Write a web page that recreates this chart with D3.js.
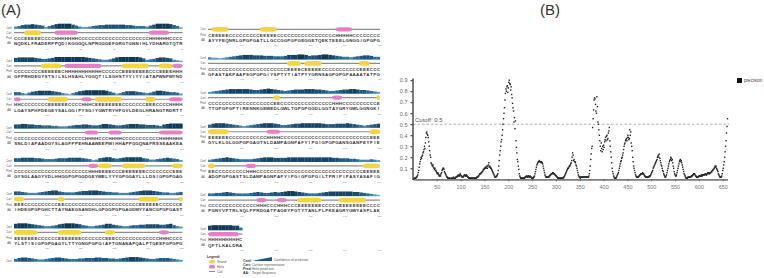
<!DOCTYPE html>
<html>
<head>
<meta charset="utf-8">
<script src="https://cdn.jsdelivr.net/npm/d3@7"></script>
<style>
  html, body { margin: 0; background: #fff; }
  svg { display: block; }
</style>
</head>
<body>
<svg id="fig" width="764" height="278"></svg>
<script>
// ===== Panel A data: PSIPRED rows, 50 residues per block (spaces only group by 10) =====
const predRows = [
  "CCCEEEEECC CCHHHHHHHC CCCCCCCCCC CCCCCCCCCC HHHHHHCCCC",
  "CCCCCCCCEE EEEECHHHHH HHHHHHCCCC CCEEEEEEEE CCCEEEEHHH",
  "HHCCCCCCCC EEEEEECCCC HHHCEEEEEE EECCCCCCCE EECCCCHHHH",
  "CCCCCCCCCC CCCCCCCCCC CHHHHCCCHH HHCCCCCCCC CCCHHHHHHH",
  "CCCCCCCCCC CCCCCCCCCC CCHHHEEEEC CCEEEEEEEC CCCCCCCEEE",
  "EEECCCCCCC CCCEECCCCC CCCCCCCCCC CCCCCCCEEE EEECCCCCCE",
  "EEEEEEECCC CCCEEEEEEE CCCCCCCEEE CCCCCCCCCC CCCHHHCCCC",
  "CEEEEECCCC CCCCCEEEEE CCCCCCCCCC CCCCCCCHHH HHCCCCCCCC",
  "CCCCCCCCCC CCCCCCCCCC CCCEEEECEE EEECCCCCCC CCCCEEECCC",
  "CCCCCCCCCC CCCCCCCCCE ECCCCCCCCC CCCCCCHHHC CCCCCCCCCE",
  "EEEEEECCCC CCCCCCCHHH HCCCCCCCCC CCCCCCCCCC CCCCCCCEEE",
  "EECCCCCCCC CHHHCCCCCC CCCCCCCCCC CCCCCCCCCC CCCCCEEEEE",
  "CCCCCCCCCC CCCCHHHCCC HHHCCCEEEE EEECCCCCEE EEEEEECCCC",
  "HHHHHHHHHC"
];
const aaRows = [
  "NQDKLFRADE RPPQDIKGGG QLNPRGGGEF GRGTGNNIHL YDHARGTQTR",
  "GFPRHDEGYS TSILSLHSAH LYGGQTILSG HSTYYIYYIA TAPWNFWYND",
  "LGAYSPHFDE GEYSALGGIP YSGIYGWTRY HFGVLDEGLH RANGTRDRTT",
  "SNLDIAPAAD GYSLAGFPPE HNAAWEEPWI HHAPPGGQNA FRSSEAAKEA",
  "GYSGLAAGYV DLHHGGPGPG GDGEYWELYY YGPGGAYLLL DSIGPGPGAG",
  "IHDEGPGPGH CTTAYNAEGS ANDHLGPGGP GPGAGDMYYA NCGPGPGAST",
  "YLSTISIGPG PGAGYLTTYG NGPGPGIAFT GNANAPQALP TGEEFGPGPG",
  "AYYFEQNRLG PGPGATLLGC CGGPGPGEGG ETQEKTEEEL GNGGIGPGPG",
  "GFASTAKPAA PSGPGPGIYS PTYTIATPYY GRNSAGPGPG FAAAATATPG",
  "TTGPGPGPTI RENNKGEWED LGWLTGPGPG GDLGGTAYGR YGWLGGNGKI",
  "GYLKLGLGGP GPGAGTSLDA MPAGNPAFYI PGIGPGPGAN SGANPEYFIE",
  "ADGPGPGAST SLDAMPAGNP AFYIPGIGPG PGILTPRIPI PASYASAFIG",
  "PGNYVPTRLS QLPPRDGATP AGEYPGTYTA NLPLPKEAGR YGWYASPLAK",
  "QFTLKALDRA"
];
const confRows = [
  "3467787652 4689999753 2234566777 7776654443 5799998641",
  "7888887655 6799999999 9876543346 8999999863 4578876321",
  "5532467888 8765321357 8999999864 2357776543 4688765542",
  "7788776655 5443334566 7765568876 5567888776 6654789999",
  "6677776654 4456667777 6542367886 5678888865 3345676542",
  "6654333456 7886544456 7788876554 4333456788 8765443345",
  "8999876543 3457899987 5433456886 5433455667 7776678532",
  "4677654334 5677654445 5666776655 4567888765 4456665432",
  "3221234567 8887776665 5568889986 7789987654 4345677644",
  "2345678888 8876678987 6545677788 8776544567 7887665432",
  "5788876543 2345678887 6445677888 8887666777 8765434567",
  "3456787654 4445678887 7778888888 8888887766 6554333432",
  "4455676544 4456765567 6789987654 4456788888 8877654321",
  "8999999884"
];
const rowLabels = ["Conf", "Cart", "Pred", "AA"];

// ===== Panel B data: precision per residue (1..660), 10 per line =====
const precision = [
  0.00,0.00,0.01,0.01,0.01,0.01,0.02,0.02,0.03,0.04,
  0.06,0.08,0.11,0.14,0.16,0.18,0.20,0.19,0.21,0.22,
  0.24,0.25,0.27,0.30,0.28,0.33,0.38,0.42,0.43,0.41,
  0.40,0.38,0.34,0.30,0.26,0.22,0.20,0.15,0.14,0.13,
  0.12,0.13,0.11,0.10,0.09,0.10,0.08,0.08,0.07,0.06,
  0.05,0.06,0.05,0.04,0.03,0.03,0.04,0.03,0.05,0.06,
  0.08,0.09,0.10,0.10,0.09,0.07,0.06,0.05,0.04,0.03,
  0.02,0.02,0.01,0.01,0.01,0.01,0.01,0.00,0.00,0.01,
  0.01,0.01,0.01,0.01,0.02,0.01,0.01,0.01,0.01,0.02,
  0.02,0.02,0.03,0.03,0.04,0.03,0.03,0.04,0.05,0.04,
  0.03,0.03,0.02,0.02,0.02,0.03,0.03,0.04,0.04,0.03,
  0.03,0.04,0.03,0.03,0.02,0.02,0.01,0.01,0.01,0.01,
  0.01,0.01,0.01,0.01,0.01,0.01,0.01,0.01,0.01,0.01,
  0.01,0.01,0.01,0.02,0.02,0.02,0.03,0.03,0.04,0.05,
  0.05,0.05,0.06,0.06,0.07,0.07,0.08,0.09,0.09,0.10,
  0.10,0.11,0.10,0.11,0.12,0.10,0.12,0.13,0.15,0.11,
  0.12,0.11,0.10,0.10,0.09,0.08,0.07,0.06,0.05,0.04,
  0.03,0.02,0.02,0.02,0.03,0.03,0.04,0.05,0.08,0.12,
  0.17,0.22,0.26,0.30,0.34,0.36,0.40,0.45,0.50,0.55,
  0.60,0.65,0.72,0.78,0.82,0.80,0.84,0.85,0.79,0.83,
  0.88,0.90,0.87,0.86,0.81,0.84,0.77,0.74,0.69,0.65,
  0.62,0.52,0.56,0.46,0.53,0.35,0.29,0.24,0.18,0.16,
  0.12,0.09,0.05,0.03,0.02,0.01,0.01,0.01,0.01,0.01,
  0.01,0.01,0.01,0.01,0.02,0.02,0.02,0.03,0.03,0.02,
  0.02,0.03,0.03,0.02,0.02,0.03,0.02,0.02,0.01,0.01,
  0.01,0.01,0.02,0.02,0.03,0.05,0.07,0.09,0.11,0.13,
  0.14,0.15,0.16,0.16,0.17,0.16,0.16,0.16,0.15,0.16,
  0.15,0.14,0.12,0.10,0.08,0.06,0.04,0.03,0.02,0.02,
  0.02,0.02,0.02,0.02,0.02,0.03,0.03,0.04,0.04,0.05,
  0.05,0.05,0.06,0.06,0.05,0.05,0.05,0.04,0.04,0.03,
  0.03,0.02,0.02,0.01,0.01,0.01,0.01,0.01,0.01,0.01,
  0.01,0.01,0.01,0.01,0.01,0.02,0.02,0.03,0.04,0.05,
  0.06,0.07,0.08,0.09,0.10,0.10,0.11,0.12,0.12,0.13,
  0.14,0.15,0.17,0.20,0.24,0.22,0.17,0.18,0.16,0.16,
  0.15,0.13,0.12,0.10,0.08,0.06,0.04,0.03,0.02,0.02,
  0.01,0.02,0.02,0.02,0.02,0.02,0.02,0.02,0.02,0.02,
  0.02,0.02,0.02,0.02,0.02,0.02,0.02,0.02,0.03,0.05,
  0.08,0.12,0.18,0.23,0.28,0.30,0.47,0.55,0.63,0.72,
  0.74,0.73,0.68,0.62,0.60,0.75,0.66,0.52,0.50,0.45,
  0.40,0.35,0.30,0.26,0.33,0.28,0.25,0.30,0.27,0.31,
  0.29,0.34,0.36,0.38,0.35,0.39,0.40,0.36,0.37,0.42,
  0.44,0.47,0.35,0.30,0.25,0.20,0.15,0.10,0.07,0.05,
  0.03,0.02,0.01,0.01,0.01,0.01,0.02,0.03,0.04,0.05,
  0.06,0.08,0.10,0.12,0.14,0.16,0.17,0.19,0.20,0.22,
  0.24,0.27,0.30,0.32,0.33,0.35,0.36,0.37,0.35,0.38,
  0.40,0.38,0.36,0.37,0.45,0.40,0.43,0.33,0.30,0.26,
  0.20,0.16,0.12,0.10,0.08,0.06,0.04,0.03,0.02,0.02,
  0.02,0.02,0.02,0.03,0.03,0.04,0.04,0.05,0.05,0.05,
  0.05,0.06,0.05,0.05,0.04,0.03,0.03,0.02,0.02,0.02,
  0.02,0.02,0.02,0.02,0.02,0.03,0.03,0.03,0.04,0.05,
  0.06,0.07,0.08,0.10,0.11,0.12,0.13,0.14,0.15,0.16,
  0.17,0.18,0.20,0.21,0.22,0.20,0.23,0.19,0.17,0.15,
  0.13,0.12,0.10,0.08,0.07,0.05,0.04,0.03,0.02,0.02,
  0.03,0.04,0.06,0.08,0.10,0.12,0.14,0.16,0.17,0.18,
  0.20,0.19,0.17,0.18,0.15,0.12,0.10,0.07,0.05,0.04,
  0.03,0.03,0.04,0.06,0.08,0.10,0.12,0.14,0.16,0.17,
  0.18,0.16,0.17,0.15,0.13,0.11,0.09,0.07,0.05,0.04,
  0.03,0.02,0.01,0.01,0.01,0.01,0.02,0.02,0.02,0.02,
  0.02,0.02,0.02,0.03,0.03,0.03,0.04,0.04,0.05,0.05,
  0.05,0.04,0.03,0.03,0.02,0.02,0.02,0.02,0.02,0.03,
  0.03,0.03,0.03,0.03,0.04,0.03,0.03,0.04,0.04,0.04,
  0.04,0.04,0.05,0.05,0.04,0.04,0.05,0.05,0.06,0.06,
  0.05,0.05,0.06,0.06,0.06,0.07,0.07,0.08,0.08,0.09,
  0.09,0.10,0.11,0.12,0.11,0.12,0.10,0.09,0.08,0.07,
  0.05,0.04,0.03,0.02,0.02,0.02,0.02,0.03,0.05,0.08,
  0.10,0.13,0.16,0.20,0.25,0.30,0.35,0.42,0.48,0.55
];
const xTickValues = [50, 100, 150, 200, 250, 300, 350, 400, 450, 500, 550, 600, 650];
const yTickValues = [0.1, 0.2, 0.3, 0.4, 0.5, 0.6, 0.7, 0.8, 0.9];
const cutoff = 0.5;

const svg = d3.select("#fig");
const FONT = "'Liberation Sans', Arial, sans-serif";

// panel labels
svg.append("text").attr("x", 1).attr("y", 15).attr("font-family", FONT)
  .attr("font-size", 15).attr("fill", "#333").text("(A)");
svg.append("text").attr("x", 540).attr("y", 15).attr("font-family", FONT)
  .attr("font-size", 15).attr("fill", "#333").text("(B)");

// =================== PANEL A ===================
const clean = s => s.replace(/ /g, "");
const confColor = d3.scaleLinear().domain([0, 4, 9]).range(["#8cc3e4", "#2f6f98", "#0f3857"]);
const confH = d3.scaleLinear().domain([0, 9]).range([0.8, 5]);

// block k -> column geometry (block 7 wraps: conf on left, rest on right)
function blockGeom(k, part) {
  if (k < 7 || (k === 7 && part === "conf")) {
    return { x0: 14, dx: 3.37, lx: 9, cy: 32.7 + 33.27 * k };
  }
  return { x0: 208, dx: 3.44, lx: 203, cy: 29.3 + 34.15 * (k - 7) };
}

const panelA = svg.append("g").attr("font-family", FONT);

predRows.forEach((predRaw, k) => {
  const pred = clean(predRaw);
  const aa = clean(aaRows[k]);
  const conf = clean(confRows[k]).split("").map(Number);
  const n = pred.length;

  // --- Conf row
  const gc = blockGeom(k, "conf");
  const xc = d3.scaleLinear().domain([0, 50]).range([gc.x0, gc.x0 + 50 * gc.dx]);
  const confBase = gc.cy - 4;
  const confG = panelA.append("g");
  confG.append("text").attr("x", gc.lx).attr("y", confBase).attr("font-size", 2.6)
    .attr("fill", "#555").attr("text-anchor", "middle").text("Conf");
  confG.append("rect").attr("x", xc(0)).attr("y", confBase - 1.2)
    .attr("width", xc(n) - xc(0)).attr("height", 1.4).attr("fill", "#8cc3e4");
  confG.selectAll("rect.cb").data(conf).enter().append("rect").attr("class", "cb")
    .attr("x", (d, i) => xc(i))
    .attr("y", d => confBase - confH(d))
    .attr("width", gc.dx + 0.1)
    .attr("height", d => confH(d))
    .attr("fill", d => confColor(d));

  // --- Cart / Pred / AA / ticks
  const g = blockGeom(k, "rest");
  const x = d3.scaleLinear().domain([0, 50]).range([g.x0, g.x0 + 50 * g.dx]);
  const rows = panelA.append("g");
  const yCart = g.cy, yPred = g.cy + 5.6, yAA = g.cy + 10.8, yTick = g.cy + 17;

  [yCart, yPred, yAA].forEach((yy, j) => {
    rows.append("text").attr("x", g.lx).attr("y", yy + 0.9).attr("font-size", 2.6)
      .attr("fill", "#555").attr("text-anchor", "middle").text(rowLabels[j + 1]);
  });

  rows.append("line").attr("x1", x(0)).attr("x2", x(n)).attr("y1", yCart).attr("y2", yCart)
    .attr("stroke", "#8e8e8e").attr("stroke-width", 1.2);

  // runs of H / E -> cartoon shapes
  const runs = [];
  for (let i = 0; i < n; i++) {
    const c = pred[i];
    if (c === "C") continue;
    if (runs.length && runs[runs.length - 1].type === c && runs[runs.length - 1].end === i) {
      runs[runs.length - 1].end = i + 1;
    } else {
      runs.push({ type: c, start: i, end: i + 1 });
    }
  }
  rows.selectAll("rect.ss").data(runs).enter().append("rect").attr("class", "ss")
    .attr("x", d => x(d.start))
    .attr("y", d => yCart - (d.type === "E" ? 2.4 : 2.1))
    .attr("width", d => x(d.end) - x(d.start))
    .attr("height", d => d.type === "E" ? 4.8 : 4.2)
    .attr("rx", d => Math.min(4, (x(d.end) - x(d.start)) / 2))
    .attr("ry", 2.2)
    .attr("fill", d => d.type === "E" ? "#f4d53b" : "#e77fc6");

  rows.selectAll("text.pr").data(pred.split("")).enter().append("text").attr("class", "pr")
    .attr("x", (d, i) => x(i + 0.5)).attr("y", yPred + 1.6)
    .attr("text-anchor", "middle").attr("font-size", 4.4).attr("font-weight", "bold")
    .attr("fill", "#333").text(d => d);

  rows.selectAll("text.aa").data(aa.split("")).enter().append("text").attr("class", "aa")
    .attr("x", (d, i) => x(i + 0.5)).attr("y", yAA + 1.6)
    .attr("text-anchor", "middle").attr("font-size", 4.4).attr("font-weight", "bold")
    .attr("fill", "#333").text(d => d);

  // residue ticks every 10
  const ticks = [10, 20, 30, 40, 50];
  rows.selectAll("text.tk").data(ticks).enter().append("text").attr("class", "tk")
    .attr("x", d => x(d) - 0.5).attr("y", yTick)
    .attr("text-anchor", "middle").attr("font-size", 2.4).attr("fill", "#888")
    .text(d => k * 50 + d);
});

// legend (panel A)
const leg = panelA.append("g");
leg.append("text").attr("x", 207).attr("y", 258).attr("font-size", 3.4)
  .attr("font-weight", "bold").attr("fill", "#333").text("Legend:");
leg.append("rect").attr("x", 209).attr("y", 260).attr("width", 6).attr("height", 3.4)
  .attr("rx", 1.7).attr("fill", "#f4d53b");
leg.append("text").attr("x", 217).attr("y", 262.8).attr("font-size", 3.2).attr("fill", "#555").text("Strand");
leg.append("rect").attr("x", 209).attr("y", 265).attr("width", 6).attr("height", 3.4)
  .attr("rx", 1.7).attr("fill", "#e77fc6");
leg.append("text").attr("x", 217).attr("y", 267.8).attr("font-size", 3.2).attr("fill", "#555").text("Helix");
leg.append("line").attr("x1", 209).attr("x2", 215).attr("y1", 271.5).attr("y2", 271.5)
  .attr("stroke", "#8e8e8e").attr("stroke-width", 1);
leg.append("text").attr("x", 217).attr("y", 272.8).attr("font-size", 3.2).attr("fill", "#555").text("Coil");

const legKeys = ["Conf:", "Cart:", "Pred:", "AA:"];
const legText = ["", "Cartoon representation", "Helix prediction", "Target Sequence"];
legKeys.forEach((t, i) => {
  leg.append("text").attr("x", 243).attr("y", 262 + i * 4).attr("font-size", 3.4)
    .attr("font-weight", "bold").attr("fill", "#333").text(t);
  if (legText[i]) leg.append("text").attr("x", 252).attr("y", 262 + i * 4)
    .attr("font-size", 3.2).attr("fill", "#555").text(legText[i]);
});
leg.append("path").attr("d", "M252,261 L272,261 L272,257 Z").attr("fill", "#1f5a80");
leg.append("text").attr("x", 274).attr("y", 261).attr("font-size", 3.2).attr("fill", "#555")
  .text("Confidence of prediction");

// =================== PANEL B ===================
const xB = d3.scaleLinear().domain([0, 660]).range([413, 727.5]);
const yB = d3.scaleLinear().domain([0, 0.92]).range([179.3, 78]);
const panelB = svg.append("g").attr("font-family", FONT);

// cutoff line
panelB.append("line").attr("x1", xB(0)).attr("x2", 729).attr("y1", yB(cutoff)).attr("y2", yB(cutoff))
  .attr("stroke", "#9a9a9a").attr("stroke-width", 0.8).attr("stroke-dasharray", "2.5,2");
panelB.append("text").attr("x", 415).attr("y", yB(cutoff) - 2).attr("font-size", 6)
  .attr("fill", "#555").text("Cutoff: 0.5");

// points
panelB.selectAll("rect.pt").data(precision).enter().append("rect").attr("class", "pt")
  .attr("x", (d, i) => xB(i + 1) - 0.7)
  .attr("y", d => yB(d) - 0.7)
  .attr("width", 1.4)
  .attr("height", 1.4)
  .attr("fill", "#222");

// axes
const xAxis = panelB.append("g").attr("transform", `translate(0,${yB(0)})`)
  .call(d3.axisBottom(xB).tickValues(xTickValues).tickSize(2).tickSizeOuter(0).tickFormat(d3.format("d")));
xAxis.select(".domain").attr("stroke", "#7d7d7d").attr("stroke-width", 1.8);
xAxis.selectAll(".tick line").attr("stroke", "#666");
xAxis.selectAll(".tick text").attr("font-size", 5.5).attr("fill", "#777").attr("dy", "0.9em")
  .attr("font-family", FONT);

const yAxis = panelB.append("g").attr("transform", `translate(${xB(0) - 0.5},0)`)
  .call(d3.axisLeft(yB).tickValues(yTickValues).tickSize(2).tickSizeOuter(0));
yAxis.select(".domain").attr("stroke", "#222").attr("stroke-width", 1.2);
yAxis.selectAll(".tick line").attr("stroke", "#222");
yAxis.selectAll(".tick text").attr("font-size", 5.5).attr("fill", "#666").attr("font-family", FONT);

// legend (panel B)
panelB.append("rect").attr("x", 737).attr("y", 78).attr("width", 5).attr("height", 5).attr("fill", "#111");
panelB.append("text").attr("x", 744).attr("y", 82.3).attr("font-size", 4.6).attr("fill", "#444").text("precision");
</script>
</body>
</html>
